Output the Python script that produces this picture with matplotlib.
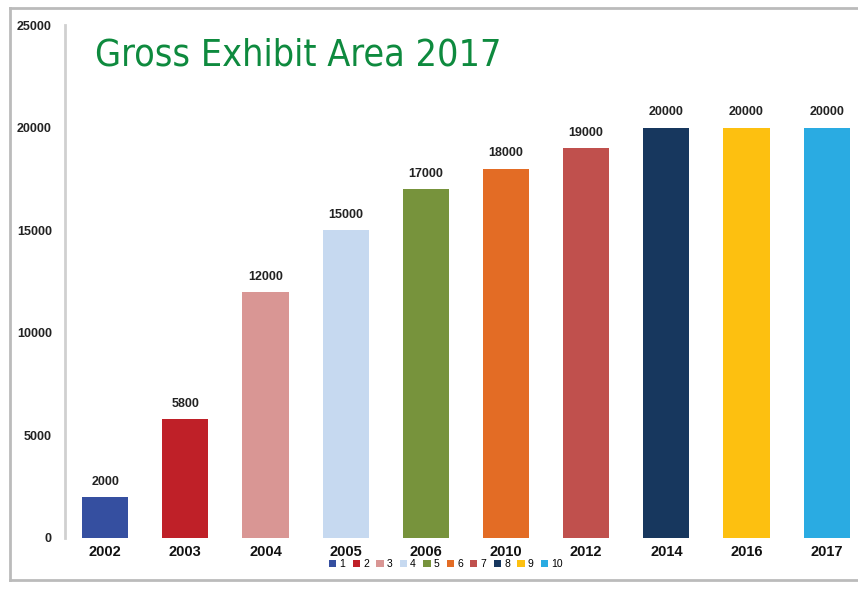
import matplotlib.pyplot as plt
from matplotlib.lines import Line2D
from matplotlib.patches import Patch

plt.rcParams['font.family'] = ['Liberation Sans', 'DejaVu Sans']

years = ['2002', '2003', '2004', '2005', '2006', '2010', '2012', '2014', '2016', '2017']
area = [2000, 5800, 12000, 15000, 17000, 18000, 19000, 20000, 20000, 20000]
series = ['1', '2', '3', '4', '5', '6', '7', '8', '9', '10']
colors = ['#354FA0', '#BF2028', '#D99694', '#C6D9F0', '#77933C',
          '#E36C25', '#C0504D', '#17375E', '#FDC010', '#2AABE2']

fig = plt.figure(figsize=(8.58, 5.89), dpi=100)
ax = fig.add_axes([65 / 858, 51 / 589, 1 - 65 / 858, 513 / 589])

x = list(range(len(years)))
bars = ax.bar(x, area, width=0.575, color=colors)
for xi, v in zip(x, area):
    ax.text(xi, v + 450, str(v), ha='center', va='bottom', fontsize=9,
            fontweight='bold', color='#222222')

ax.set_ylim(0, 25000)
ax.set_xlim(-0.5, 9.39)
ax.set_yticks([0, 5000, 10000, 15000, 20000, 25000])
ax.set_yticklabels(['0', '5000', '10000', '15000', '20000', '25000'],
                   fontsize=9, fontweight='bold', color='#222222')
ax.set_xticks(x)
ax.set_xticklabels(years, fontsize=10.5, fontweight='bold', color='#111111')
ax.tick_params(axis='y', length=0, pad=9.5)
ax.tick_params(axis='x', length=0, pad=5)
for s in ['top', 'right', 'bottom']:
    ax.spines[s].set_visible(False)
ax.spines['left'].set_color('#D0D0D0')
ax.spines['left'].set_linewidth(2)

ax.text(95 / 858, 1 - 55 / 589, 'Gross Exhibit Area 2017', transform=fig.transFigure,
        fontsize=27, color='#0E8A3E', family='DejaVu Sans', fontstretch='condensed',
        ha='left', va='center')

handles = [Patch(facecolor=c) for c in colors]
fig.legend(handles, series, loc='center', bbox_to_anchor=(446 / 858, 1 - 564 / 589),
           ncol=10, fontsize=7.5, frameon=False, handlelength=0.7, handleheight=0.7,
           handletextpad=0.3, columnspacing=0.7, borderpad=0)

# outer frame
frame = dict(color='#BBBBBB', linewidth=2, transform=fig.transFigure)
fig.add_artist(Line2D([10 / 858, 1], [1 - 8 / 589, 1 - 8 / 589], **frame))
fig.add_artist(Line2D([10 / 858, 10 / 858], [1 - 8 / 589, 1 - 580 / 589], **frame))
fig.add_artist(Line2D([10 / 858, 1], [1 - 580 / 589, 1 - 580 / 589], **frame))

fig.savefig('out.png', dpi=100)
